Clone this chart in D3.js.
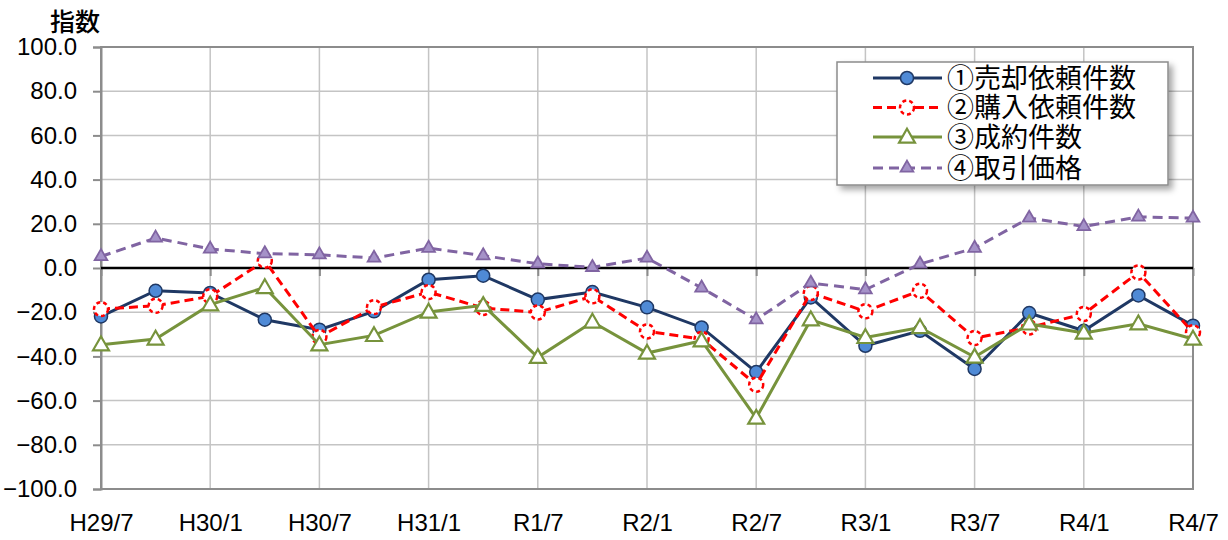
<!DOCTYPE html>
<html>
<head>
<meta charset="utf-8">
<script src="https://cdn.jsdelivr.net/npm/d3@7"></script>
<style>
  body { margin: 0; background: #fff; }
  svg { display: block; }
</style>
</head>
<body>
<div id="chart"></div>
<script>
// quarters from H29/7 to R4/7
const categories = ["H29/7","H29/10","H30/1","H30/4","H30/7","H30/10","H31/1","H31/4","R1/7","R1/10",
  "R2/1","R2/4","R2/7","R2/10","R3/1","R3/4","R3/7","R3/10","R4/1","R4/4","R4/7"];
const tickLabels = ["H29/7","H30/1","H30/7","H31/1","R1/7","R2/1","R2/7","R3/1","R3/7","R4/1","R4/7"];
const yTicks = [-100, -80, -60, -40, -20, 0, 20, 40, 60, 80, 100];

const sellRequests = [-21.9,-10.3,-11.3,-23.4,-27.9,-19.6,-5.3,-3.5,-14.3,-10.9,-17.8,-26.9,-47.1,-13.3,-35.2,-28.4,-45.7,-20.4,-28.4,-12.4,-26.1];
const buyRequests  = [-18.6,-17.1,-12.8,3.3,-31.2,-17.7,-10.9,-18.1,-20.1,-12.8,-28.7,-32.1,-52.8,-11.3,-19.6,-10.3,-31.7,-26.9,-20.8,-2.0,-29.1];
const contracts    = [-34.7,-32.1,-16.6,-8.8,-34.7,-30.5,-19.9,-16.9,-40.4,-24.4,-38.5,-32.9,-67.9,-23.4,-31.4,-26.9,-40.3,-25.3,-29.4,-25.2,-32.1];
const prices       = [5.2,13.6,8.6,6.5,6.0,4.5,9.0,5.6,1.9,0.3,4.5,-9.0,-23.4,-6.8,-9.8,1.8,9.0,22.6,18.8,23.1,22.6];

const seriesNames = ["①売却依頼件数", "②購入依頼件数", "③成約件数", "④取引価格"];

const W = 1228, H = 540;
const plot = {left: 101, right: 1193, top: 47, bottom: 489};
const font = "'Liberation Sans', Arial, sans-serif";
const cjk = "'Noto Sans CJK JP', 'Noto Sans', sans-serif";

const svg = d3.select("#chart").append("svg")
    .attr("width", W)
    .attr("height", H);

const defs = svg.append("defs");
const shadow = defs.append("filter").attr("id", "shadow")
    .attr("x", "-10%").attr("y", "-10%").attr("width", "130%").attr("height", "140%");
shadow.append("feDropShadow")
    .attr("dx", 4).attr("dy", 4).attr("stdDeviation", 3)
    .attr("flood-color", "#000").attr("flood-opacity", 0.35);

const x = d3.scalePoint()
    .domain(categories)
    .range([plot.left, plot.right]);

const y = d3.scaleLinear()
    .domain([-100, 100])
    .range([plot.bottom, plot.top]);

// gridlines
svg.append("g")
    .selectAll("line")
    .data(yTicks)
    .join("line")
    .attr("x1", plot.left).attr("x2", plot.right)
    .attr("y1", d => y(d)).attr("y2", d => y(d))
    .attr("stroke", "#c4c4c4")
    .attr("stroke-width", 1.5);

svg.append("g")
    .selectAll("line")
    .data(tickLabels)
    .join("line")
    .attr("x1", d => x(d)).attr("x2", d => x(d))
    .attr("y1", plot.top).attr("y2", plot.bottom)
    .attr("stroke", "#c4c4c4")
    .attr("stroke-width", 1.5);

// plot area border
svg.append("rect")
    .attr("x", plot.left).attr("y", plot.top)
    .attr("width", plot.right - plot.left).attr("height", plot.bottom - plot.top)
    .attr("fill", "none")
    .attr("stroke", "#8c8c8c")
    .attr("stroke-width", 2);

// Y axis
const yAxis = svg.append("g")
    .attr("transform", `translate(${plot.left},0)`)
    .call(d3.axisLeft(y).tickValues(yTicks).tickSize(8).tickPadding(16).tickFormat(d3.format(".1f")));
yAxis.select(".domain").attr("stroke", "#8c8c8c").attr("stroke-width", 2);
yAxis.selectAll(".tick line").attr("stroke", "#8c8c8c").attr("stroke-width", 2);
yAxis.selectAll("text")
    .attr("font-family", font)
    .attr("font-size", 24)
    .attr("fill", "#000");

// X axis (crosses at 0, labels low)
const xAxis = svg.append("g")
    .attr("transform", `translate(0,${y(0)})`)
    .call(d3.axisBottom(x).tickValues(tickLabels).tickSize(8));
xAxis.select(".domain").remove();
xAxis.selectAll(".tick line").attr("stroke", "#8c8c8c").attr("stroke-width", 2);
xAxis.selectAll("text")
    .attr("y", plot.bottom - y(0) + 25)
    .attr("font-family", font)
    .attr("font-size", 24)
    .attr("fill", "#000");

// zero line
svg.append("line")
    .attr("x1", plot.left).attr("x2", plot.right)
    .attr("y1", y(0)).attr("y2", y(0))
    .attr("stroke", "#000")
    .attr("stroke-width", 2.5);

// y title
svg.append("text")
    .attr("x", 50).attr("y", 31)
    .attr("font-family", cjk)
    .attr("font-size", 25)
    .attr("font-weight", 500)
    .text("指数");

const line = d3.line()
    .x((d, i) => x(categories[i]))
    .y(d => y(d));

const triangle = d3.symbol().type(d3.symbolTriangle);

const styles = [
  { values: sellRequests, color: "#1f3864", dash: null, marker: "circle", fill: "#4f8ad6", mstroke: "#1f3864", mdash: null },
  { values: buyRequests, color: "#ff0000", dash: "9,5", marker: "circle", fill: "#fff", mstroke: "#ff0000", mdash: "4,3" },
  { values: contracts, color: "#77933c", dash: null, marker: "triangle", fill: "#fff", mstroke: "#77933c", mdash: null },
  { values: prices, color: "#8064a2", dash: "10,6", marker: "star", fill: "#a592c8", mstroke: "#8064a2", mdash: null }
];

function drawMarker(g, s, cx, cy) {
  if (s.marker === "circle") {
    g.append("circle")
        .attr("cx", cx).attr("cy", cy)
        .attr("r", s.fill === "#fff" ? 7 : 6.5)
        .attr("fill", s.fill)
        .attr("stroke", s.mstroke)
        .attr("stroke-width", s.fill === "#fff" ? 2.5 : 1.5)
        .attr("stroke-dasharray", s.mdash);
  } else if (s.marker === "triangle") {
    g.append("path")
        .attr("d", triangle.size(110)())
        .attr("transform", `translate(${cx},${cy + 1})`)
        .attr("fill", s.fill)
        .attr("stroke", s.mstroke)
        .attr("stroke-width", 2.2);
  } else {
    g.append("path")
        .attr("d", triangle.size(70)())
        .attr("transform", `translate(${cx},${cy})`)
        .attr("fill", s.fill)
        .attr("stroke", s.mstroke)
        .attr("stroke-width", 1.8);
  }
}

styles.forEach(s => {
  svg.append("path")
      .datum(s.values)
      .attr("d", line)
      .attr("fill", "none")
      .attr("stroke", s.color)
      .attr("stroke-width", 3)
      .attr("stroke-dasharray", s.dash);
  const mg = svg.append("g");
  s.values.forEach((v, i) => drawMarker(mg, s, x(categories[i]), y(v)));
});

// legend
const legend = svg.append("g");
legend.append("rect")
    .attr("x", 837).attr("y", 62)
    .attr("width", 331).attr("height", 123)
    .attr("fill", "#fff")
    .attr("stroke", "#8c8c8c")
    .attr("stroke-width", 1.5)
    .attr("filter", "url(#shadow)");

const rowY = [78, 107.5, 137, 168];
styles.forEach((s, i) => {
  const ly = rowY[i];
  legend.append("line")
      .attr("x1", 873).attr("x2", 942)
      .attr("y1", ly).attr("y2", ly)
      .attr("stroke", s.color)
      .attr("stroke-width", 3)
      .attr("stroke-dasharray", s.dash);
  drawMarker(legend, s, 907, ly);
  legend.append("text")
      .attr("x", 947).attr("y", ly)
      .attr("dy", "0.36em")
      .attr("font-family", cjk)
      .attr("font-size", 27)
      .text(seriesNames[i]);
});
</script>
</body>
</html>
